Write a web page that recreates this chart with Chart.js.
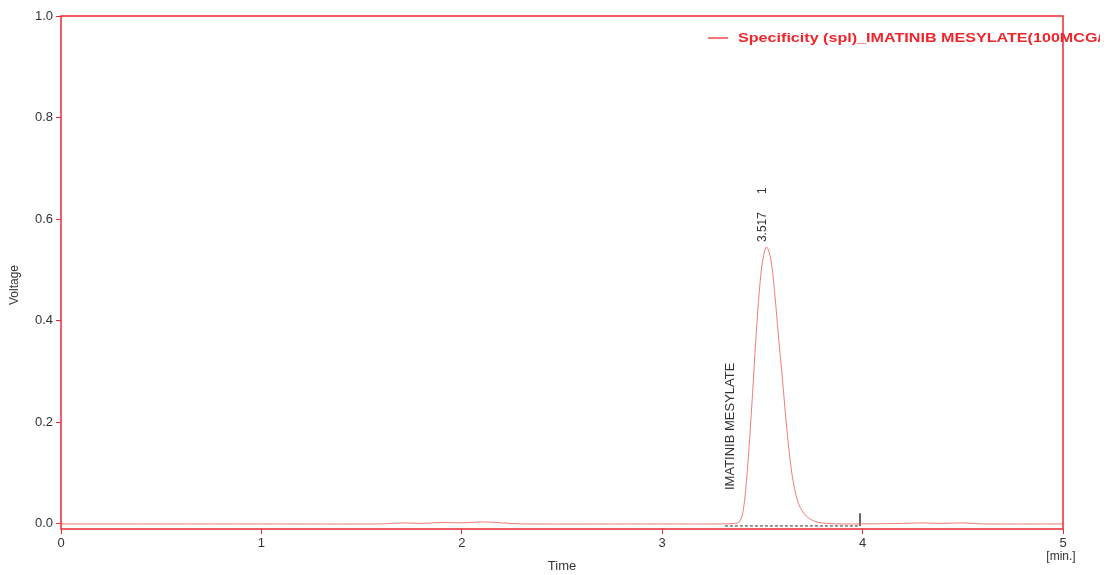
<!DOCTYPE html>
<html>
<head>
<meta charset="utf-8">
<script src="https://cdn.jsdelivr.net/npm/chart.js@4/dist/chart.umd.min.js"></script>
<style>
  body { margin: 0; background: #fff; }
  #wrap { width: 1108px; height: 575px; }
</style>
</head>
<body>
<div id="wrap"><canvas id="chrom" width="1108" height="575"></canvas></div>
<script>
'use strict';

// chromatogram trace (time in min, voltage)
var times = [0, 1.0, 1.6, 1.7, 1.8, 1.9, 2.0, 2.1, 2.2, 2.3, 3.0, 3.30, 3.36, 3.385, 3.405, 3.425, 3.44, 3.455,
             3.47, 3.485, 3.50, 3.52, 3.54, 3.56, 3.58, 3.60, 3.62, 3.64, 3.66, 3.68, 3.70, 3.72,
             3.75, 3.78, 3.82, 3.90, 4.0, 4.2, 4.3, 4.4, 4.5, 4.6, 5.0];
var voltage = [0, 0, 0, 0.002, 0.001, 0.003, 0.002, 0.004, 0.002, 0, 0, 0, 0.001, 0.004, 0.028, 0.106, 0.19, 0.283,
               0.38, 0.46, 0.515, 0.545, 0.525, 0.46, 0.37, 0.285, 0.195, 0.12, 0.07, 0.04, 0.025, 0.015,
               0.007, 0.003, 0.001, 0, 0, 0.001, 0.002, 0.001, 0.002, 0, 0];

// integration baseline + end marker
var baseTimes = [3.313, 3.987];
var baseVolts = [-0.004, -0.004];
var markTimes = [3.987, 3.987];
var markVolts = [-0.004, 0.021];

var xTicks = [0, 1, 2, 3, 4, 5];
var yTicks = [0.0, 0.2, 0.4, 0.6, 0.8, 1.0];

var seriesName = 'Specificity (spl)_IMATINIB MESYLATE(100MCG/ml)';
var peakTime = '3.517';
var peakNo = '1';
var peakName = 'IMATINIB MESYLATE';

var RED = '#ea2a30';

function pairs(xs, ys) {
   return xs.map(function (x, i) { return { x: x, y: ys[i] }; });
}

var decor = {
   id: 'decor',
   afterDraw: function (chart) {
      var ctx = chart.ctx;
      var a = chart.chartArea;
      var sx = chart.scales.x, sy = chart.scales.y;
      ctx.save();

      // frame
      ctx.strokeStyle = RED;
      ctx.lineWidth = 1.5;
      ctx.strokeRect(a.left, a.top, a.right - a.left, a.bottom - a.top);

      // legend (text runs past the frame and gets cut off like the original)
      ctx.strokeStyle = '#f04848';
      ctx.lineWidth = 1.5;
      ctx.beginPath();
      ctx.moveTo(708, 38);
      ctx.lineTo(728, 38);
      ctx.stroke();
      ctx.save();
      ctx.beginPath();
      ctx.rect(700, 20, 400, 40);
      ctx.clip();
      ctx.translate(738, 38);
      ctx.scale(1.24, 1);
      ctx.fillStyle = '#f0262c';
      ctx.font = 'bold 13px "Liberation Sans", Arial, sans-serif';
      ctx.textBaseline = 'middle';
      ctx.textAlign = 'left';
      ctx.fillText(seriesName, 0, 0);
      ctx.restore();

      // peak labels (rotated)
      var px = sx.getPixelForValue(3.517);
      ctx.fillStyle = '#333';
      ctx.font = '12px "Liberation Sans", Arial, sans-serif';
      ctx.save();
      ctx.translate(px - 3, sy.getPixelForValue(0.545) - 5);
      ctx.rotate(-Math.PI / 2);
      ctx.textAlign = 'left';
      ctx.textBaseline = 'middle';
      ctx.fillText(peakTime, 0, 0);
      ctx.fillText(peakNo, 48, 0);
      ctx.restore();

      ctx.save();
      ctx.translate(730, 490);
      ctx.rotate(-Math.PI / 2);
      ctx.textAlign = 'left';
      ctx.textBaseline = 'middle';
      ctx.font = '13px "Liberation Sans", Arial, sans-serif';
      ctx.fillText(peakName, 0, 0);
      ctx.restore();

      // axis titles
      ctx.fillStyle = '#333';
      ctx.font = '13px "Liberation Sans", Arial, sans-serif';
      ctx.textAlign = 'center';
      ctx.textBaseline = 'middle';
      ctx.fillText('Time', 562, 566);
      ctx.font = '12px "Liberation Sans", Arial, sans-serif';
      ctx.fillText('[min.]', 1061, 557);
      ctx.save();
      ctx.translate(15, 285);
      ctx.rotate(-Math.PI / 2);
      ctx.fillText('Voltage', 0, 0);
      ctx.restore();

      ctx.restore();
   }
};

var ctx = document.getElementById('chrom').getContext('2d');
var chart = new Chart(ctx, {
   type: 'line',
   data: {
      datasets: [{
         data: pairs(times, voltage),
         borderColor: 'rgba(236,90,90,0.8)',
         borderWidth: 1,
         pointRadius: 0,
         tension: 0.35,
         fill: false
      }, {
         data: pairs(baseTimes, baseVolts),
         borderColor: '#333',
         borderWidth: 1,
         borderDash: [3, 2],
         pointRadius: 0
      }, {
         data: pairs(markTimes, markVolts),
         borderColor: '#333',
         borderWidth: 1.5,
         pointRadius: 0
      }]
   },
   options: {
      responsive: false,
      animation: false,
      layout: { padding: { left: 0, top: 16, right: 45, bottom: 0 } },
      plugins: { legend: { display: false }, tooltip: { enabled: false } },
      scales: {
         x: {
            type: 'linear',
            min: 0,
            max: 5,
            afterBuildTicks: function (scale) {
               scale.ticks = xTicks.map(function (v) { return { value: v }; });
            },
            afterFit: function (scale) { scale.height = 46; },
            grid: { drawOnChartArea: false, drawTicks: true, tickLength: 5, color: RED },
            border: { display: false },
            ticks: {
               color: '#333',
               padding: 2,
               maxRotation: 0,
               font: { family: '"Liberation Sans", Arial, sans-serif', size: 13 },
               callback: function (v) { return String(v); }
            }
         },
         y: {
            min: -0.01,
            max: 1.0,
            afterBuildTicks: function (scale) {
               scale.ticks = yTicks.map(function (v) { return { value: v }; });
            },
            afterFit: function (scale) { scale.width = 61; },
            grid: { drawOnChartArea: false, drawTicks: true, tickLength: 5, color: RED },
            border: { display: false },
            ticks: {
               color: '#333',
               padding: 3,
               font: { family: '"Liberation Sans", Arial, sans-serif', size: 13 },
               callback: function (v) { return Number(v).toFixed(1); }
            }
         }
      }
   },
   plugins: [decor]
});
</script>
</body>
</html>
